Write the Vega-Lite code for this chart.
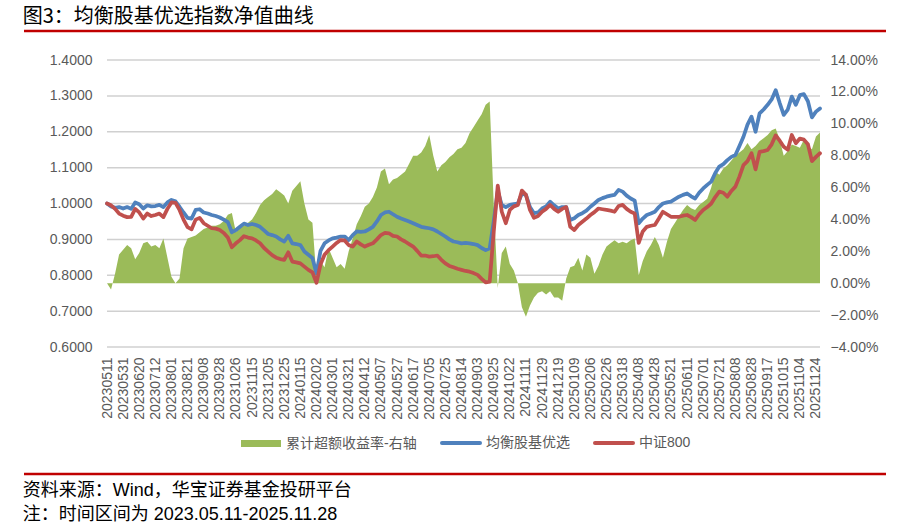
{
  "$schema": "https://vega.github.io/schema/vega-lite/v6.json",
  "background": "white",
  "padding": {"left": 22, "top": 6, "right": 22, "bottom": 0},
  "spacing": 20,
  "resolve": {"scale": {"color": "independent"}, "legend": {"color": "independent"}},
  "config": {
    "view": {"stroke": null},
    "axis": {"labelFont": "Liberation Sans", "labelFontSize": 14, "labelColor": "#595959", "ticks": false, "tickSize": 0, "domain": false, "title": null}
  },
  "datasets": {
    "nav": [
      {"date":"20230511","均衡股基优选":1.000,"中证800":1.000,"excess":0.0},
      {"date":"20230517","均衡股基优选":0.992,"中证800":0.995,"excess":-0.4},
      {"date":"20230522","均衡股基优选":0.988,"中证800":0.985,"excess":0.6},
      {"date":"20230526","均衡股基优选":0.990,"中证800":0.972,"excess":1.8},
      {"date":"20230531","均衡股基优选":0.986,"中证800":0.966,"excess":2.1},
      {"date":"20230605","均衡股基优选":0.990,"中证800":0.962,"excess":2.4},
      {"date":"20230608","均衡股基优选":0.985,"中证800":0.963,"excess":2.2},
      {"date":"20230614","均衡股基优选":1.003,"中证800":0.985,"excess":1.5},
      {"date":"20230620","均衡股基优选":0.998,"中证800":0.975,"excess":1.9},
      {"date":"20230627","均衡股基优选":0.986,"中证800":0.958,"excess":2.5},
      {"date":"20230630","均衡股基优选":0.995,"中证800":0.972,"excess":2.6},
      {"date":"20230707","均衡股基优选":0.992,"中证800":0.965,"excess":2.3},
      {"date":"20230712","均衡股基优选":0.993,"中证800":0.968,"excess":2.4},
      {"date":"20230717","均衡股基优选":0.996,"中证800":0.972,"excess":2.2},
      {"date":"20230721","均衡股基优选":0.990,"中证800":0.962,"excess":2.8},
      {"date":"20230726","均衡股基优选":1.003,"中证800":0.985,"excess":1.6},
      {"date":"20230801","均衡股基优选":1.010,"中证800":1.003,"excess":0.4},
      {"date":"20230804","均衡股基优选":1.006,"中证800":1.002,"excess":0.0},
      {"date":"20230809","均衡股基优选":0.991,"中证800":0.982,"excess":0.3},
      {"date":"20230815","均衡股基优选":0.975,"中证800":0.955,"excess":2.2},
      {"date":"20230821","均衡股基优选":0.960,"中证800":0.934,"excess":2.8},
      {"date":"20230824","均衡股基优选":0.958,"中证800":0.928,"excess":2.9},
      {"date":"20230829","均衡股基优选":0.982,"中证800":0.955,"excess":3.0},
      {"date":"20230901","均衡股基优选":0.984,"中证800":0.960,"excess":3.2},
      {"date":"20230908","均衡股基优选":0.975,"中证800":0.945,"excess":3.4},
      {"date":"20230913","均衡股基优选":0.972,"中证800":0.938,"excess":3.5},
      {"date":"20230918","均衡股基优选":0.968,"中证800":0.931,"excess":3.6},
      {"date":"20230922","均衡股基优选":0.965,"中证800":0.930,"excess":3.6},
      {"date":"20230928","均衡股基优选":0.961,"中证800":0.926,"excess":3.7},
      {"date":"20231010","均衡股基优选":0.955,"中证800":0.918,"excess":3.9},
      {"date":"20231013","均衡股基优选":0.948,"中证800":0.905,"excess":4.3},
      {"date":"20231019","均衡股基优选":0.920,"中证800":0.878,"excess":4.4},
      {"date":"20231026","均衡股基优选":0.926,"中证800":0.889,"excess":3.2},
      {"date":"20231031","均衡股基优选":0.935,"中证800":0.898,"excess":3.5},
      {"date":"20231103","均衡股基优选":0.944,"中证800":0.909,"excess":3.6},
      {"date":"20231109","均衡股基优选":0.940,"中证800":0.905,"excess":3.8},
      {"date":"20231115","均衡股基优选":0.943,"中证800":0.903,"excess":4.0},
      {"date":"20231120","均衡股基优选":0.940,"中证800":0.897,"excess":4.4},
      {"date":"20231123","均衡股基优选":0.935,"中证800":0.889,"excess":4.9},
      {"date":"20231129","均衡股基优选":0.925,"中证800":0.876,"excess":5.2},
      {"date":"20231205","均衡股基优选":0.915,"中证800":0.866,"excess":5.4},
      {"date":"20231208","均衡股基优选":0.912,"中证800":0.856,"excess":5.6},
      {"date":"20231213","均衡股基优选":0.908,"中证800":0.849,"excess":5.9},
      {"date":"20231218","均衡股基优选":0.900,"中证800":0.845,"excess":5.7},
      {"date":"20231225","均衡股基优选":0.894,"中证800":0.843,"excess":5.5},
      {"date":"20231228","均衡股基优选":0.910,"中证800":0.864,"excess":5.0},
      {"date":"20240104","均衡股基优选":0.889,"中证800":0.838,"excess":5.8},
      {"date":"20240109","均衡股基优选":0.887,"中证800":0.836,"excess":6.1},
      {"date":"20240115","均衡股基优选":0.884,"中证800":0.833,"excess":6.4},
      {"date":"20240118","均衡股基优选":0.866,"中证800":0.824,"excess":5.0},
      {"date":"20240124","均衡股基优选":0.857,"中证800":0.815,"excess":4.0},
      {"date":"20240129","均衡股基优选":0.848,"中证800":0.808,"excess":3.8},
      {"date":"20240202","均衡股基优选":0.805,"中证800":0.779,"excess":0.3},
      {"date":"20240207","均衡股基优选":0.868,"中证800":0.830,"excess":1.4},
      {"date":"20240220","均衡股基优选":0.889,"中证800":0.857,"excess":1.0},
      {"date":"20240226","均衡股基优选":0.897,"中证800":0.870,"excess":2.2},
      {"date":"20240301","均衡股基优选":0.903,"中证800":0.880,"excess":1.6},
      {"date":"20240306","均衡股基优选":0.905,"中证800":0.890,"excess":1.0},
      {"date":"20240311","均衡股基优选":0.908,"中证800":0.898,"excess":1.2},
      {"date":"20240314","均衡股基优选":0.908,"中证800":0.897,"excess":0.9},
      {"date":"20240321","均衡股基优选":0.898,"中证800":0.884,"excess":2.0},
      {"date":"20240326","均衡股基优选":0.912,"中证800":0.880,"excess":2.8},
      {"date":"20240329","均衡股基优选":0.922,"中证800":0.894,"excess":3.7},
      {"date":"20240408","均衡股基优选":0.921,"中证800":0.886,"excess":4.2},
      {"date":"20240412","均衡股基优选":0.922,"中证800":0.880,"excess":4.8},
      {"date":"20240417","均衡股基优选":0.928,"中证800":0.885,"excess":5.0},
      {"date":"20240422","均衡股基优选":0.935,"中证800":0.889,"excess":5.4},
      {"date":"20240425","均衡股基优选":0.950,"中证800":0.900,"excess":6.0},
      {"date":"20240507","均衡股基优选":0.968,"中证800":0.912,"excess":7.0},
      {"date":"20240510","均衡股基优选":0.975,"中证800":0.918,"excess":7.2},
      {"date":"20240515","均衡股基优选":0.977,"中证800":0.917,"excess":6.2},
      {"date":"20240521","均衡股基优选":0.970,"中证800":0.910,"excess":6.5},
      {"date":"20240527","均衡股基优选":0.963,"中证800":0.908,"excess":6.6},
      {"date":"20240530","均衡股基优选":0.958,"中证800":0.900,"excess":6.8},
      {"date":"20240604","均衡股基优选":0.954,"中证800":0.894,"excess":7.0},
      {"date":"20240607","均衡股基优选":0.950,"中证800":0.887,"excess":7.5},
      {"date":"20240617","均衡股基优选":0.945,"中证800":0.880,"excess":8.0},
      {"date":"20240620","均衡股基优选":0.940,"中证800":0.868,"excess":8.0},
      {"date":"20240625","均衡股基优选":0.935,"中证800":0.855,"excess":8.2},
      {"date":"20240628","均衡股基优选":0.933,"中证800":0.855,"excess":8.6},
      {"date":"20240705","均衡股基优选":0.931,"中证800":0.852,"excess":9.3},
      {"date":"20240710","均衡股基优选":0.928,"中证800":0.853,"excess":8.0},
      {"date":"20240715","均衡股基优选":0.922,"中证800":0.855,"excess":7.0},
      {"date":"20240719","均衡股基优选":0.915,"中证800":0.843,"excess":7.4},
      {"date":"20240725","均衡股基优选":0.908,"中证800":0.833,"excess":7.6},
      {"date":"20240730","均衡股基优选":0.900,"中证800":0.826,"excess":7.9},
      {"date":"20240802","均衡股基优选":0.894,"中证800":0.822,"excess":8.1},
      {"date":"20240807","均衡股基优选":0.892,"中证800":0.818,"excess":8.4},
      {"date":"20240814","均衡股基优选":0.889,"中证800":0.815,"excess":8.5},
      {"date":"20240819","均衡股基优选":0.890,"中证800":0.812,"excess":8.8},
      {"date":"20240822","均衡股基优选":0.889,"中证800":0.810,"excess":9.4},
      {"date":"20240828","均衡股基优选":0.887,"中证800":0.806,"excess":9.8},
      {"date":"20240903","均衡股基优选":0.884,"中证800":0.801,"excess":10.2},
      {"date":"20240906","均衡股基优选":0.876,"中证800":0.790,"excess":10.6},
      {"date":"20240911","均衡股基优选":0.870,"中证800":0.780,"excess":11.2},
      {"date":"20240919","均衡股基优选":0.875,"中证800":0.782,"excess":11.4},
      {"date":"20240925","均衡股基优选":0.950,"中证800":0.920,"excess":5.0},
      {"date":"20240930","均衡股基优选":1.035,"中证800":1.050,"excess":-0.3},
      {"date":"20241011","均衡股基优选":0.996,"中证800":0.977,"excess":1.9},
      {"date":"20241016","均衡股基优选":0.990,"中证800":0.945,"excess":2.3},
      {"date":"20241022","均衡股基优选":0.996,"中证800":0.982,"excess":1.2},
      {"date":"20241025","均衡股基优选":0.998,"中证800":0.992,"excess":0.8},
      {"date":"20241030","均衡股基优选":1.000,"中证800":0.996,"excess":0.0},
      {"date":"20241105","均衡股基优选":1.028,"中证800":1.036,"excess":-1.5},
      {"date":"20241111","均衡股基优选":1.024,"中证800":1.024,"excess":-2.1},
      {"date":"20241114","均衡股基优选":0.990,"中证800":0.982,"excess":-1.4},
      {"date":"20241119","均衡股基优选":0.973,"中证800":0.960,"excess":-0.9},
      {"date":"20241125","均衡股基优选":0.975,"中证800":0.965,"excess":-0.6},
      {"date":"20241129","均衡股基优选":0.986,"中证800":0.977,"excess":-0.5},
      {"date":"20241204","均衡股基优选":0.992,"中证800":0.985,"excess":-0.7},
      {"date":"20241209","均衡股基优选":1.005,"中证800":0.996,"excess":-0.5},
      {"date":"20241213","均衡股基优选":0.995,"中证800":0.985,"excess":-0.9},
      {"date":"20241219","均衡股基优选":0.986,"中证800":0.977,"excess":-0.9},
      {"date":"20241224","均衡股基优选":0.990,"中证800":0.985,"excess":-1.1},
      {"date":"20241227","均衡股基优选":0.990,"中证800":0.990,"excess":0.3},
      {"date":"20250103","均衡股基优选":0.954,"中证800":0.935,"excess":1.0},
      {"date":"20250109","均衡股基优选":0.959,"中证800":0.926,"excess":1.1},
      {"date":"20250114","均衡股基优选":0.968,"中证800":0.940,"excess":1.6},
      {"date":"20250117","均衡股基优选":0.973,"中证800":0.949,"excess":0.8},
      {"date":"20250123","均衡股基优选":0.980,"中证800":0.958,"excess":1.8},
      {"date":"20250206","均衡股基优选":0.991,"中证800":0.968,"excess":1.6},
      {"date":"20250211","均衡股基优选":1.000,"中证800":0.976,"excess":0.6},
      {"date":"20250214","均衡股基优选":1.010,"中证800":0.986,"excess":1.1},
      {"date":"20250220","均衡股基优选":1.015,"中证800":0.984,"excess":1.8},
      {"date":"20250226","均衡股基优选":1.019,"中证800":0.982,"excess":2.3},
      {"date":"20250303","均衡股基优选":1.022,"中证800":0.980,"excess":2.5},
      {"date":"20250306","均衡股基优选":1.024,"中证800":0.977,"excess":2.7},
      {"date":"20250312","均衡股基优选":1.038,"中证800":0.993,"excess":2.5},
      {"date":"20250318","均衡股基优选":1.033,"中证800":0.996,"excess":2.6},
      {"date":"20250321","均衡股基优选":1.022,"中证800":0.985,"excess":2.5},
      {"date":"20250326","均衡股基优选":1.014,"中证800":0.977,"excess":2.7},
      {"date":"20250402","均衡股基优选":1.008,"中证800":0.972,"excess":2.8},
      {"date":"20250408","均衡股基优选":0.945,"中证800":0.890,"excess":0.5},
      {"date":"20250411","均衡股基优选":0.958,"中证800":0.922,"excess":1.4},
      {"date":"20250416","均衡股基优选":0.968,"中证800":0.935,"excess":2.0},
      {"date":"20250422","均衡股基优选":0.972,"中证800":0.938,"excess":2.4},
      {"date":"20250428","均衡股基优选":0.977,"中证800":0.940,"excess":2.9},
      {"date":"20250506","均衡股基优选":0.990,"中证800":0.958,"excess":2.4},
      {"date":"20250509","均衡股基优选":1.000,"中证800":0.977,"excess":1.6},
      {"date":"20250515","均衡股基优选":1.003,"中证800":0.970,"excess":2.6},
      {"date":"20250521","均衡股基优选":1.005,"中证800":0.963,"excess":3.4},
      {"date":"20250526","均衡股基优选":1.012,"中证800":0.963,"excess":3.8},
      {"date":"20250529","均衡股基优选":1.019,"中证800":0.963,"excess":4.2},
      {"date":"20250605","均衡股基优选":1.024,"中证800":0.966,"excess":4.6},
      {"date":"20250611","均衡股基优选":1.028,"中证800":0.968,"excess":4.9},
      {"date":"20250616","均衡股基优选":1.020,"中证800":0.962,"excess":4.7},
      {"date":"20250619","均衡股基优选":1.014,"中证800":0.954,"excess":4.6},
      {"date":"20250624","均衡股基优选":1.030,"中证800":0.970,"excess":4.9},
      {"date":"20250701","均衡股基优选":1.042,"中证800":0.982,"excess":5.1},
      {"date":"20250704","均衡股基优选":1.052,"中证800":0.990,"excess":5.3},
      {"date":"20250709","均衡股基优选":1.061,"中证800":1.000,"excess":6.0},
      {"date":"20250715","均衡股基优选":1.085,"中证800":1.018,"excess":7.0},
      {"date":"20250721","均衡股基优选":1.103,"中证800":1.033,"excess":6.8},
      {"date":"20250724","均衡股基优选":1.110,"中证800":1.030,"excess":7.2},
      {"date":"20250729","均衡股基优选":1.121,"中证800":1.019,"excess":7.4},
      {"date":"20250801","均衡股基优选":1.130,"中证800":1.035,"excess":7.7},
      {"date":"20250808","均衡股基优选":1.135,"中证800":1.047,"excess":8.0},
      {"date":"20250813","均衡股基优选":1.160,"中证800":1.075,"excess":8.2},
      {"date":"20250818","均衡股基优选":1.186,"中证800":1.107,"excess":8.4},
      {"date":"20250821","均衡股基优选":1.220,"中证800":1.118,"excess":8.8},
      {"date":"20250828","均衡股基优选":1.242,"中证800":1.140,"excess":8.4},
      {"date":"20250902","均衡股基优选":1.200,"中证800":1.095,"excess":8.6},
      {"date":"20250905","均衡股基优选":1.251,"中证800":1.144,"excess":8.9},
      {"date":"20250911","均衡股基优选":1.262,"中证800":1.146,"excess":9.1},
      {"date":"20250917","均衡股基优选":1.275,"中证800":1.149,"excess":9.3},
      {"date":"20250922","均衡股基优选":1.290,"中证800":1.165,"excess":9.6},
      {"date":"20250925","均衡股基优选":1.316,"中证800":1.190,"excess":9.7},
      {"date":"20251009","均衡股基优选":1.280,"中证800":1.175,"excess":9.0},
      {"date":"20251015","均衡股基优选":1.247,"中证800":1.158,"excess":8.0},
      {"date":"20251020","均衡股基优选":1.262,"中证800":1.150,"excess":8.3},
      {"date":"20251023","均衡股基优选":1.298,"中证800":1.191,"excess":8.7},
      {"date":"20251029","均衡股基优选":1.275,"中证800":1.168,"excess":8.6},
      {"date":"20251104","均衡股基优选":1.302,"中证800":1.181,"excess":8.5},
      {"date":"20251107","均衡股基优选":1.305,"中证800":1.178,"excess":9.0},
      {"date":"20251112","均衡股基优选":1.285,"中证800":1.165,"excess":8.6},
      {"date":"20251117","均衡股基优选":1.240,"中证800":1.118,"excess":8.4},
      {"date":"20251124","均衡股基优选":1.256,"中证800":1.130,"excess":9.2},
      {"date":"20251128","均衡股基优选":1.265,"中证800":1.140,"excess":9.45}
    ],
    "gridlines": [
      {"level": 0.6, "date": "20230511"}, {"level": 0.6, "date": "20251128"},
      {"level": 0.7, "date": "20230511"}, {"level": 0.7, "date": "20251128"},
      {"level": 0.8, "date": "20230511"}, {"level": 0.8, "date": "20251128"},
      {"level": 0.9, "date": "20230511"}, {"level": 0.9, "date": "20251128"},
      {"level": 1.0, "date": "20230511"}, {"level": 1.0, "date": "20251128"},
      {"level": 1.1, "date": "20230511"}, {"level": 1.1, "date": "20251128"},
      {"level": 1.2, "date": "20230511"}, {"level": 1.2, "date": "20251128"},
      {"level": 1.3, "date": "20230511"}, {"level": 1.3, "date": "20251128"},
      {"level": 1.4, "date": "20230511"}, {"level": 1.4, "date": "20251128"}
    ]
  },
  "vconcat": [
    {
      "data": {"values": [{}]},
      "width": 862,
      "height": 2,
      "title": {"text": "图3：均衡股基优选指数净值曲线", "anchor": "start", "font": "Noto Sans CJK SC", "fontSize": 20, "fontWeight": "normal", "color": "#000000", "offset": 3},
      "mark": {"type": "rule", "color": "#C00000", "strokeWidth": 2.5},
      "encoding": {"y": {"datum": 0.5, "type": "quantitative", "scale": {"domain": [0, 1]}, "axis": null}}
    },
    {
      "data": {"name": "nav"},
      "width": 796,
      "height": 287,
      "layer": [
        {
          "data": {"name": "gridlines"},
          "mark": {"type": "line", "color": "#D0D0D0", "strokeWidth": 1.5},
          "encoding": {
            "x": {"field": "date", "type": "ordinal"},
            "y": {"field": "level", "type": "quantitative", "scale": {"domain": [0.6, 1.4], "nice": false, "zero": false}, "axis": null},
            "detail": {"field": "level", "type": "nominal"}
          }
        },
        {
          "mark": {"type": "area", "color": "#9BBB59"},
          "encoding": {
            "x": {"field": "date", "type": "ordinal", "scale": {"type": "point", "padding": 0, "range": [83, 796]},
              "axis": {"values": ["20230511","20230531","20230620","20230712","20230801","20230821","20230908","20230928","20231026","20231115","20231205","20231225","20240115","20240202","20240301","20240321","20240412","20240507","20240527","20240617","20240705","20240725","20240814","20240903","20240925","20241022","20241111","20241129","20241219","20250109","20250206","20250226","20250318","20250408","20250428","20250521","20250611","20250701","20250721","20250808","20250828","20250917","20251015","20251104","20251124"],
                "labelAngle": 270, "labelPadding": 10, "labelOverlap": false, "grid": false}},
            "y": {"field": "excess", "type": "quantitative", "scale": {"domain": [-4, 14], "nice": false},
              "axis": {"orient": "right", "values": [-4,-2,0,2,4,6,8,10,12,14], "labelExpr": "format(datum.value, '.2f') + '%'", "labelPadding": 10, "labelOverlap": false, "grid": false}},
            "color": {"datum": "累计超额收益率-右轴", "type": "nominal", "title": null,
              "scale": {"domain": ["累计超额收益率-右轴", "均衡股基优选", "中证800"], "range": ["#9BBB59", "#4F81BD", "#C0504D"]},
              "legend": {
                "orient": "none", "legendX": 230, "legendY": 376, "direction": "horizontal", "title": null,
                "labelFont": "Liberation Sans, Noto Sans CJK SC", "labelFontSize": 14, "labelColor": "#595959",
                "symbolSize": 1600, "labelOffset": 18, "columnPadding": 17,
                "encode": {"symbols": {"update": {
                  "shape": {"signal": "datum.value === '累计超额收益率-右轴' ? 'M-1,-0.18H1V0.18H-1Z' : 'M-0.95,0H0.95'"},
                  "strokeWidth": {"signal": "datum.value === '累计超额收益率-右轴' ? 0 : 4"},
                  "fill": {"signal": "datum.value === '累计超额收益率-右轴' ? '#9BBB59' : 'transparent'"},
                  "stroke": {"signal": "datum.value === '均衡股基优选' ? '#4F81BD' : (datum.value === '中证800' ? '#C0504D' : '#9BBB59')"},
                  "strokeCap": {"value": "round"},
                  "opacity": {"value": 1}
                }}}
              }}
          }
        },
        {
          "transform": [{"fold": ["均衡股基优选", "中证800"], "as": ["series", "nav"]}],
          "mark": {"type": "line", "strokeWidth": 3.75, "strokeJoin": "round", "strokeCap": "round"},
          "encoding": {
            "x": {"field": "date", "type": "ordinal"},
            "y": {"field": "nav", "type": "quantitative", "scale": {"domain": [0.6, 1.4], "nice": false, "zero": false},
              "axis": {"orient": "left", "offset": -83, "values": [0.6,0.7,0.8,0.9,1.0,1.1,1.2,1.3,1.4], "format": ".4f", "labelPadding": 15, "labelOverlap": false, "grid": false}},
            "color": {"field": "series", "type": "nominal", "title": null, "legend": {"title": null}}
          }
        }
      ],
      "resolve": {"scale": {"y": "independent"}}
    },
    {
      "data": {"values": [{}]},
      "width": 862,
      "height": 6,
      "title": {"text": ["资料来源：Wind，华宝证券基金投研平台", "注：时间区间为 2023.05.11-2025.11.28"], "orient": "bottom", "anchor": "start", "font": "Liberation Sans, Noto Sans CJK SC", "fontSize": 18, "fontWeight": "normal", "color": "#000000", "lineHeight": 24, "offset": 5},
      "mark": {"type": "rule", "color": "#C00000", "strokeWidth": 2.5},
      "encoding": {"y": {"datum": 0.5, "type": "quantitative", "scale": {"domain": [0, 1]}, "axis": null}}
    }
  ]
}
